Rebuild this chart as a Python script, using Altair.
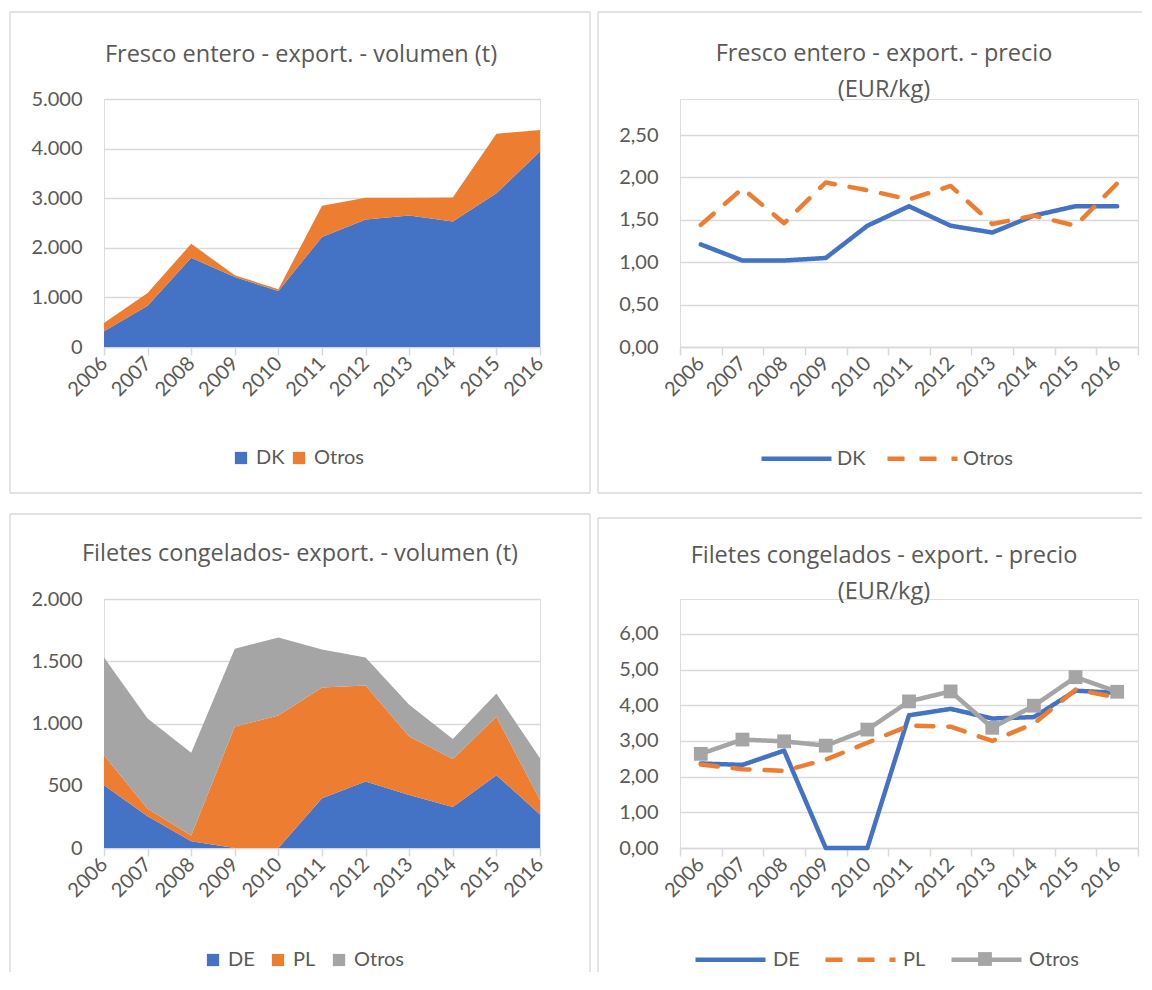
import altair as alt
import pandas as pd

years = [str(y) for y in range(2006, 2017)]

# Fresco entero - export. - volumen (t)
fresco_vol_dk = [320, 830, 1800, 1410, 1130, 2220, 2570, 2650, 2530, 3100, 3940]
fresco_vol_otros = [165, 260, 280, 35, 35, 630, 440, 360, 485, 1200, 435]

# Fresco entero - export. - precio (EUR/kg)
fresco_precio_dk = [1.21, 1.02, 1.02, 1.05, 1.43, 1.66, 1.43, 1.35, 1.55, 1.66, 1.66]
fresco_precio_otros = [1.44, 1.87, 1.46, 1.94, 1.85, 1.74, 1.90, 1.45, 1.55, 1.43, 1.93]

# Filetes congelados - export. - volumen (t)
filetes_vol_de = [505, 255, 55, 0, 0, 400, 535, 425, 330, 585, 270]
filetes_vol_pl = [240, 60, 45, 975, 1065, 890, 770, 470, 385, 470, 115]
filetes_vol_otros = [785, 725, 665, 625, 625, 305, 225, 255, 160, 185, 335]

# Filetes congelados - export. - precio (EUR/kg)
filetes_precio_de = [2.37, 2.33, 2.73, 0.0, 0.0, 3.72, 3.90, 3.63, 3.67, 4.41, 4.35]
filetes_precio_pl = [2.34, 2.21, 2.16, 2.48, 2.95, 3.43, 3.40, 3.00, 3.49, 4.44, 4.22]
filetes_precio_otros = [2.64, 3.04, 2.99, 2.87, 3.32, 4.11, 4.39, 3.37, 3.99, 4.79, 4.38]

FONT = "Lato"
TFONT = "Open Sans"
TXT = "#595959"
GRID = "#D9D9D9"
BLUE = "#4472C4"
ORANGE = "#ED7D31"
GREY = "#A5A5A5"


def long_df(series):
    rows = []
    for i, (name, vals) in enumerate(series):
        for y, v in zip(years, vals):
            rows.append({"year": y, "serie": name, "value": v, "orden": i, "marcador": name})
    return pd.DataFrame(rows)


df1 = long_df([("DK", fresco_vol_dk), ("Otros", fresco_vol_otros)])
df2 = long_df([("DK", fresco_precio_dk), ("Otros", fresco_precio_otros)])
df3 = long_df([("DE", filetes_vol_de), ("PL", filetes_vol_pl), ("Otros", filetes_vol_otros)])
df4 = long_df([("DE", filetes_precio_de), ("PL", filetes_precio_pl), ("Otros", filetes_precio_otros)])
df4_otros = df4[df4["serie"] == "Otros"]

LBL = dict(labelFont=FONT, labelFontSize=20, labelColor=TXT)


def y_axis(values, expr):
    return alt.Axis(values=values, labelExpr=expr, title=None, domain=False, ticks=False,
                    grid=True, gridColor=GRID, gridWidth=1.3, labelPadding=22, **LBL)


def x_axis(band):
    kw = dict(title=None, labelAngle=-45, labelAlign="right", labelBaseline="middle",
              domainColor=GRID, domainWidth=1.5, tickColor=GRID, tickWidth=1.5, tickSize=8,
              labelPadding=5, grid=False, **LBL)
    if band:
        kw["tickBand"] = "extent"
    return alt.Axis(**kw)


X_POINT = alt.X("year:O", scale=alt.Scale(type="point", padding=0), axis=x_axis(False))
X_BAND = alt.X("year:O", scale=alt.Scale(type="band", paddingInner=0, paddingOuter=0),
               axis=x_axis(True), bandPosition=0.5)

THOUSANDS = "replace(format(datum.value, ',d'), ',', '.')"
DECIMALS = "replace(format(datum.value, '.2f'), '.', ',')"


def sq_legend(x, y, pad):
    return alt.Legend(title=None, orient="none", legendX=x, legendY=y, direction="horizontal",
                      symbolType="square", symbolSize=150, symbolStrokeWidth=0,
                      labelOffset=5, columnPadding=pad, padding=0, **LBL)


def line_legend(x, y, off, pad):
    return alt.Legend(title=None, orient="none", legendX=x, legendY=y, direction="horizontal",
                      symbolType="stroke", symbolSize=4900, symbolStrokeWidth=4.5,
                      labelOffset=off, columnPadding=pad, padding=0, **LBL)


def frame(segments):
    layers = []
    for (x1, x2, y1, y2) in segments:
        layers.append(
            alt.Chart(alt.Data(values=[{"k": 1}])).mark_rule(color=GRID, strokeWidth=1.3).encode(
                x=alt.value(x1), x2=alt.value(x2), y=alt.value(y1), y2=alt.value(y2)
            )
        )
    return layers


def title(lines, dx, offset):
    return alt.TitleParams(text=lines, font=TFONT, fontSize=23.5, fontWeight="normal", color=TXT,
                           anchor="middle", dx=dx, offset=offset, lineHeight=36)


W1, W2 = 436, 458
H1, H2 = 248, 249

# Panel 1
area1 = alt.Chart(df1).mark_area().encode(
    x=X_POINT,
    y=alt.Y("value:Q", stack="zero", scale=alt.Scale(domain=[0, 5000], nice=False),
            axis=y_axis([0, 1000, 2000, 3000, 4000, 5000], THOUSANDS)),
    color=alt.Color("serie:N", scale=alt.Scale(domain=["DK", "Otros"], range=[BLUE, ORANGE]),
                    legend=sq_legend(127, 349, 4)),
    order=alt.Order("orden:Q"),
)
p1 = alt.layer(*frame([(-94, 486, -87, -87), (-94, 486, 394, 394), (-94, -94, -87, 394), (486, 486, -87, 394)]),
               area1).properties(width=W1, height=H1,
                                 title=title(["Fresco entero - export. - volumen (t)"], -21, -55))

# Panel 2
line2 = alt.Chart(df2).mark_line(strokeWidth=4.5, strokeCap="round", strokeJoin="round").encode(
    x=X_BAND,
    y=alt.Y("value:Q", scale=alt.Scale(domain=[0, 2.925], nice=False, zero=True),
            axis=y_axis([0, 0.5, 1, 1.5, 2, 2.5], DECIMALS)),
    color=alt.Color("serie:N", scale=alt.Scale(domain=["DK", "Otros"], range=[BLUE, ORANGE]),
                    legend=line_legend(79, 322, 3, 12)),
    strokeDash=alt.StrokeDash("serie:N", scale=alt.Scale(domain=["DK", "Otros"], range=[[1, 0], [17, 15]]),
                              legend=line_legend(79, 322, 3, 12)),
)
p2 = alt.layer(*frame([(-82, 462, -87, -87), (-82, 462, 394, 394), (-82, -82, -87, 394)]),
               line2).properties(width=W2, height=H1,
                                 title=title(["Fresco entero - export. - precio", "(EUR/kg)"], -25, -90))

# Panel 3
area3 = alt.Chart(df3).mark_area().encode(
    x=X_POINT,
    y=alt.Y("value:Q", stack="zero", scale=alt.Scale(domain=[0, 2000], nice=False),
            axis=y_axis([0, 500, 1000, 1500, 2000], THOUSANDS)),
    color=alt.Color("serie:N", scale=alt.Scale(domain=["DE", "PL", "Otros"], range=[BLUE, ORANGE, GREY]),
                    legend=sq_legend(99, 351, 13)),
    order=alt.Order("orden:Q"),
)
p3 = alt.layer(*frame([(-94, 486, -85, -85), (-94, -94, -85, 373), (486, 486, -85, 373)]),
               area3).properties(width=W1, height=H2,
                                 title=title(["Filetes congelados- export. - volumen (t)"], -22, -52))

# Panel 4
Y4 = alt.Y("value:Q", scale=alt.Scale(domain=[0, 6.981], nice=False, zero=True),
           axis=y_axis([0, 1, 2, 3, 4, 5, 6], DECIMALS))
line4 = alt.Chart(df4).mark_line(strokeWidth=4.5, strokeCap="round", strokeJoin="round").encode(
    x=X_BAND,
    y=Y4,
    color=alt.Color("serie:N", scale=alt.Scale(domain=["DE", "PL", "Otros"], range=[BLUE, ORANGE, GREY]),
                    legend=line_legend(13, 323, 5, 16)),
    strokeDash=alt.StrokeDash("serie:N", scale=alt.Scale(domain=["DE", "PL", "Otros"],
                                                        range=[[1, 0], [17, 15], [1, 0]]),
                              legend=line_legend(13, 323, 5, 16)),
)
pts4 = alt.Chart(df4_otros).mark_point(filled=True, shape="square", size=190, opacity=1, color=GREY).encode(
    x=X_BAND,
    y=Y4,
    shape=alt.Shape("marcador:N", scale=alt.Scale(domain=["Otros"], range=["square"]),
                    legend=alt.Legend(title=None, orient="none", legendX=295, legendY=350, labelExpr="''",
                                      symbolSize=190, symbolFillColor=GREY, symbolStrokeColor=GREY,
                                      symbolStrokeWidth=0, symbolOpacity=1, padding=0, **LBL)),
)
p4 = alt.layer(*frame([(-82, 462, -81, -81), (-82, -82, -81, 373)]),
               line4, pts4).properties(width=W2, height=H2,
                                       title=title(["Filetes congelados - export. - precio", "(EUR/kg)"], -25, -86))

chart = alt.concat(p1, p2, p3, p4, columns=2, spacing={"row": 252, "column": 140}, bounds="flush").resolve_scale(
    color="independent", strokeDash="independent", shape="independent"
).resolve_legend(
    color="independent", strokeDash="independent", shape="independent"
).properties(
    padding={"left": 0, "top": 2, "right": 0, "bottom": 0}
).configure_view(strokeWidth=0).configure(font=FONT)

chart.save("out.html", embed_options={"renderer": "svg", "actions": False})
